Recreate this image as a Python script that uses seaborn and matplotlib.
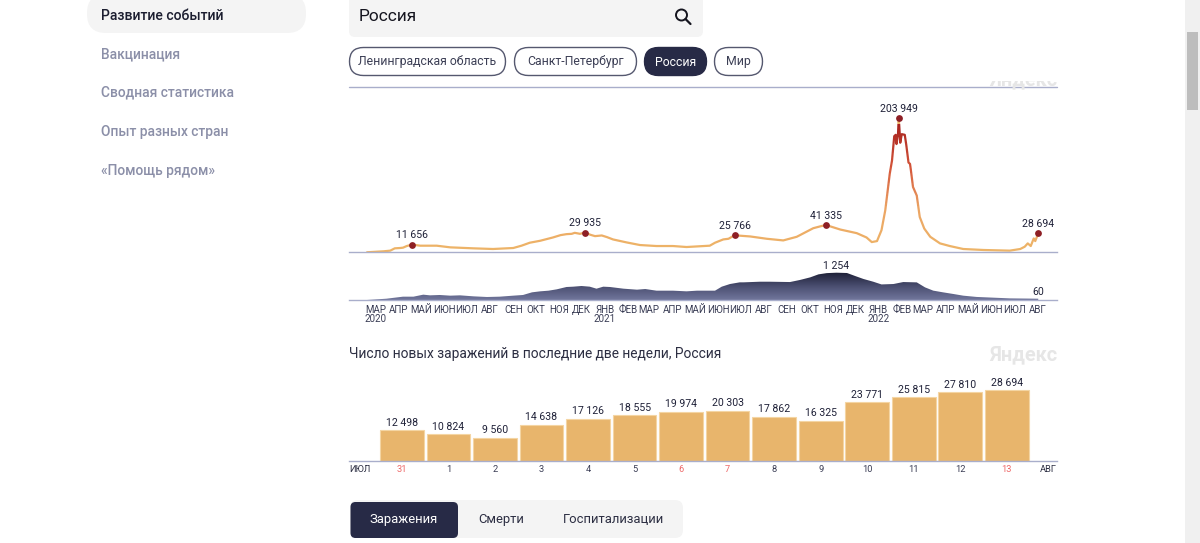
import numpy as np
import pandas as pd
import matplotlib
matplotlib.use("Agg")
import matplotlib.pyplot as plt
import matplotlib.dates as mdates
import seaborn as sns
from matplotlib.colors import LinearSegmentedColormap
from matplotlib.patches import FancyBboxPatch, Rectangle, Circle

# New cases, days since 2020-03-02
case_days = [0, 22, 31, 37, 44, 48, 53, 60, 71, 93, 111, 142, 168, 195, 206, 217, 231, 248, 258, 266,
             273, 277, 284, 291, 298, 304, 313, 320, 328, 346, 364, 386, 408, 426, 457, 464, 475, 482, 490,
             511, 533, 555, 573, 595, 605, 612, 631, 653, 666, 673, 680, 686, 691, 697, 700, 703, 705, 706,
             708, 709, 711, 713, 717, 719, 722, 724, 725, 728, 733, 737, 743, 751, 764, 777, 795, 822, 857,
             871, 877, 881, 885, 889, 891, 895]
case_values = [20, 1500, 2500, 6000, 6500, 7000, 9500, 11656, 10000, 10000, 7500, 6000, 5000, 6500,
               10000, 14500, 17500, 22500, 26000, 27500, 28000, 29500, 28000, 29935, 26500, 24500, 25500,
               23000, 19500, 15000, 11000, 9500, 9500, 8000, 10000, 14500, 19500, 20500, 25766,
               24000, 20500, 18000, 23500, 36500, 39500, 41335, 34500, 29000, 22500, 15500, 17000, 33500,
               63500, 119000, 139000, 176000, 178000, 164000, 179000, 203949, 166000, 179000, 178000, 163000,
               136000, 134000, 126000, 99000, 86000, 53500, 36000, 23500, 13500, 9500, 5000, 3500, 2500,
               5000, 8500, 13500, 9500, 21000, 17000, 28694]
peak_days = [60, 291, 490, 612, 709, 895]
peak_values = [11656, 29935, 25766, 41335, 203949, 28694]

# Deaths
death_days = [0, 26, 48, 62, 75, 84, 97, 111, 124, 142, 160, 177, 195, 208, 220, 231, 242, 253, 266, 275,
              286, 297, 306, 315, 324, 342, 360, 371, 386, 408, 426, 440, 464, 473, 484, 497, 502, 524, 537,
              564, 577, 591, 602, 613, 626, 640, 651, 662, 675, 686, 702, 715, 733, 744, 755, 768, 782, 795,
              813, 857, 895]
death_values = [0, 60, 153, 153, 245, 214, 230, 199, 214, 168, 138, 153, 199, 230, 352, 398, 428, 490, 597,
                612, 643, 612, 520, 612, 597, 520, 474, 505, 428, 428, 398, 428, 428, 612, 734, 811, 811, 840,
                840, 825, 918, 1040, 1178, 1235, 1254, 1240, 1100, 965, 840, 715, 734, 825, 810, 581, 430,
                352, 275, 199, 140, 75, 60]

month_labels = ["МАР\n2020", "АПР", "МАЙ", "ИЮН", "ИЮЛ", "АВГ", "СЕН", "ОКТ", "НОЯ", "ДЕК",
                "ЯНВ\n2021", "ФЕВ", "МАР", "АПР", "МАЙ", "ИЮН", "ИЮЛ", "АВГ", "СЕН", "ОКТ", "НОЯ", "ДЕК",
                "ЯНВ\n2022", "ФЕВ", "МАР", "АПР", "МАЙ", "ИЮН", "ИЮЛ", "АВГ"]

# Last two weeks
bar_days = ["31", "1", "2", "3", "4", "5", "6", "7", "8", "9", "10", "11", "12", "13"]
bar_values = [12498, 10824, 9560, 14638, 17126, 18555, 19974, 20303, 17862, 16325, 23771, 25815, 27810, 28694]
weekend_days = ["31", "6", "7", "13"]

menu_items = ["Вакцинация", "Сводная статистика", "Опыт разных стран", "«Помощь рядом»"]
menu_y = [54.5, 92.5, 132, 170.5]

W, H = 1200, 543
DARK = "#272a46"
AXIS = "#a9aecb"
TEXT = "#2c2e42"
TITLE = "Число новых заражений в последние две недели, Россия"

sns.set_theme(style="white")
plt.rcParams["font.family"] = ["Roboto", "DejaVu Sans"]


def fmt(v):
    return f"{v:,}".replace(",", " ")


def ax_px(x0, y0, x1, y1):
    ax = fig.add_axes([x0 / W, 1 - y1 / H, (x1 - x0) / W, (y1 - y0) / H])
    ax.patch.set_alpha(0)
    sns.despine(ax=ax, left=True)
    ax.spines["bottom"].set_color(AXIS)
    ax.spines["bottom"].set_linewidth(1.0)
    ax.set_yticks([])
    return ax


def box(x0, y0, x1, y1, r, fc, ec="none", lw=0):
    ui.add_patch(FancyBboxPatch((x0, y0), x1 - x0, y1 - y0, boxstyle=f"round,pad=0,rounding_size={r}",
                                fc=fc, ec=ec, lw=lw))


def clipped_text(rect, *args, **kwargs):
    t = ui.text(*args, **kwargs)
    t.set_clip_on(True)
    t.set_clip_path(Rectangle(rect[:2], rect[2], rect[3], transform=ui.transData))
    return t


fig = plt.figure(figsize=(12, 5.43), dpi=100)

# page furniture, in pixel coordinates
ui = fig.add_axes([0, 0, 1, 1])
ui.set_xlim(0, W)
ui.set_ylim(H, 0)
ui.axis("off")

box(87, -6, 306, 33, 19, "#f4f4f4")
ui.text(101, 15.5, "Развитие событий", fontsize=10.1, fontweight="medium", color="#1c1e30", va="center")
for label, y in zip(menu_items, menu_y):
    ui.text(101, y, label, fontsize=9.95, fontweight="medium", color="#8b8fa8", va="center")

box(349, -6, 703, 37, 6, "#f4f4f4")
ui.text(359, 16.5, "Россия", fontsize=12.4, color="#15151f", va="center")
ui.add_patch(Circle((681.5, 15), 5.5, fc="none", ec="#15151f", lw=1.4))
ui.plot([685.5, 690.5], [19, 24], color="#15151f", lw=1.6)

pills = [(349, 506, "Ленинградская область", False), (514, 637, "Санкт-Петербург", False),
         (644, 707, "Россия", True), (714, 763, "Мир", False)]
for x0, x1, label, active in pills:
    box(x0 + 0.5, 47.5, x1 - 0.5, 75.5, 14, DARK if active else "white", DARK if active else "#55586f", 1.0)
    ui.text((x0 + x1) / 2, 62, label, fontsize=8.8, color="white" if active else "#3c3f55", ha="center", va="center")

# cut off header of the scrolled chart
clipped_text((900, 81, 200, 11), 1057, 80, "Яндекс", fontsize=14.3, fontweight="bold", color="#e6e6e6",
             ha="right", va="center")
clipped_text((340, 87, 400, 2), 349, 80, TITLE, fontsize=9.9, color=TEXT, va="center")
ui.plot([349, 1057], [87, 87], color=AXIS, lw=1.0)

ui.add_patch(Rectangle((1185, 0), 15, H, fc="#f0f0f0", ec="none"))
ui.add_patch(Rectangle((1187, 32), 11, 78, fc="#bdbdbd", ec="none"))

ui.text(349, 354, TITLE, fontsize=9.9, color=TEXT, va="center")
ui.text(1057, 355, "Яндекс", fontsize=14.3, fontweight="bold", color="#e6e6e6", ha="right", va="center")

box(350, 500, 683, 538, 8, "#f4f4f4")
box(350.5, 502, 458, 538, 5, DARK)
ui.text(404, 519.5, "Заражения", fontsize=9.4, color="white", ha="center", va="center")
ui.text(501, 519.5, "Смерти", fontsize=9.4, color="#2c2e42", ha="center", va="center")
ui.text(613, 519.5, "Госпитализации", fontsize=9.4, color="#2c2e42", ha="center", va="center")

start = pd.Timestamp("2020-03-02")
xlim = (start + pd.Timedelta(days=-24), start + pd.Timedelta(days=920))
cases = pd.DataFrame({"date": start + pd.to_timedelta(case_days, unit="D"), "value": case_values})
deaths = pd.DataFrame({"date": start + pd.to_timedelta(death_days, unit="D"), "value": death_values})
peaks = pd.DataFrame({"date": start + pd.to_timedelta(peak_days, unit="D"), "value": peak_values})

# cases: the line colour follows the height, so one clipped copy per band
ax1 = ax_px(349, 88, 1057, 252.3)
ymax1 = 203949 * (252.3 - 88) / 134.6
cmap = LinearSegmentedColormap.from_list("cases", ["#edb468", "#eca564", "#d4553a", "#a8231f"])
bands = np.linspace(0, 210000, 43)
for lo, hi in zip(bands[:-1], bands[1:]):
    n = len(ax1.lines)
    sns.lineplot(data=cases, x="date", y="value", ax=ax1, color=cmap(min(lo / 190000, 1)), lw=1.6, errorbar=None)
    ax1.lines[n].set_clip_path(Rectangle((0, lo), 1e6, hi - lo, transform=ax1.transData))
sns.scatterplot(data=peaks, x="date", y="value", ax=ax1, color="#8e1f25", s=24, linewidth=0, zorder=5, clip_on=False)
for d, v in zip(peaks["date"], peak_values):
    ax1.annotate(fmt(v), (d, v), xytext=(0, 6.6), textcoords="offset points", ha="center", va="center",
                 fontsize=7.6, color="#1f2138", annotation_clip=False)
ax1.set_xlim(*xlim)
ax1.set_ylim(0, ymax1)
ax1.set_xticks([])
ax1.set_xlabel("")
ax1.set_ylabel("")

# deaths: area with a vertical gradient
ax2 = ax_px(349, 262, 1057, 300)
ymax2 = 1254 * 38 / 27.3
poly = ax2.fill_between(deaths["date"], deaths["value"], color="none", lw=0)
grad = LinearSegmentedColormap.from_list("deaths", ["#1d1f36", "#4a4e70", "#71769c"])
x0, x1 = mdates.date2num(xlim[0]), mdates.date2num(xlim[1])
img = ax2.imshow(np.linspace(0, 1, 128).reshape(-1, 1), cmap=grad, aspect="auto",
                 extent=[x0, x1, 0, 1254], origin="upper", zorder=2)
img.set_clip_path(poly.get_paths()[0], transform=ax2.transData)
ax2.annotate(fmt(1254), (start + pd.Timedelta(days=626), 1254), xytext=(0, 4.5), textcoords="offset points",
             ha="center", va="center", fontsize=7.6, color="#1f2138", annotation_clip=False)
ax2.annotate("60", (start + pd.Timedelta(days=895), 60), xytext=(0, 4.7), textcoords="offset points",
             ha="center", va="center", fontsize=7.6, color="#1f2138", annotation_clip=False)
ax2.set_xlim(*xlim)
ax2.set_ylim(0, ymax2)
ticks = pd.date_range("2020-03-13", periods=len(month_labels), freq=pd.DateOffset(months=1))
ax2.set_xticks(ticks)
ax2.set_xticklabels(month_labels, fontsize=7.0, color="#3a3d55", linespacing=0.95, va="top")
ax2.tick_params(axis="x", length=0, pad=3.5)

# last two weeks
ax3 = ax_px(349, 375, 1057, 461.3)
two_weeks = pd.DataFrame({"day": [f"{i}_{d}" for i, d in enumerate(bar_days)], "value": bar_values})
sns.barplot(data=two_weeks, x="day", y="value", ax=ax3, color="#e8b56c", width=0.94, saturation=1,
            edgecolor="#f4d5a3", linewidth=0.8)
ax3.bar_label(ax3.containers[0], labels=[fmt(v) for v in bar_values], padding=1.8, fontsize=7.6, color="#1f2138")
ax3.set_xlim(-1.138, 14.08)
ax3.set_ylim(0, 28694 * 86.3 / 71.3)
ax3.set_xticks(range(len(bar_days)))
ax3.set_xticklabels(bar_days, fontsize=6.7)
for tick, d in zip(ax3.get_xticklabels(), bar_days):
    tick.set_color("#ee6a6a" if d in weekend_days else "#3a3d55")
ax3.tick_params(axis="x", length=0, pad=2.5)
ax3.set_xlabel("")
ax3.set_ylabel("")

ui.text(349, 470, "ИЮЛ", fontsize=6.7, color="#2c2e42", va="center")
ui.text(1057, 470, "АВГ", fontsize=6.7, color="#2c2e42", ha="right", va="center")

fig.savefig("out.png", dpi=100)
